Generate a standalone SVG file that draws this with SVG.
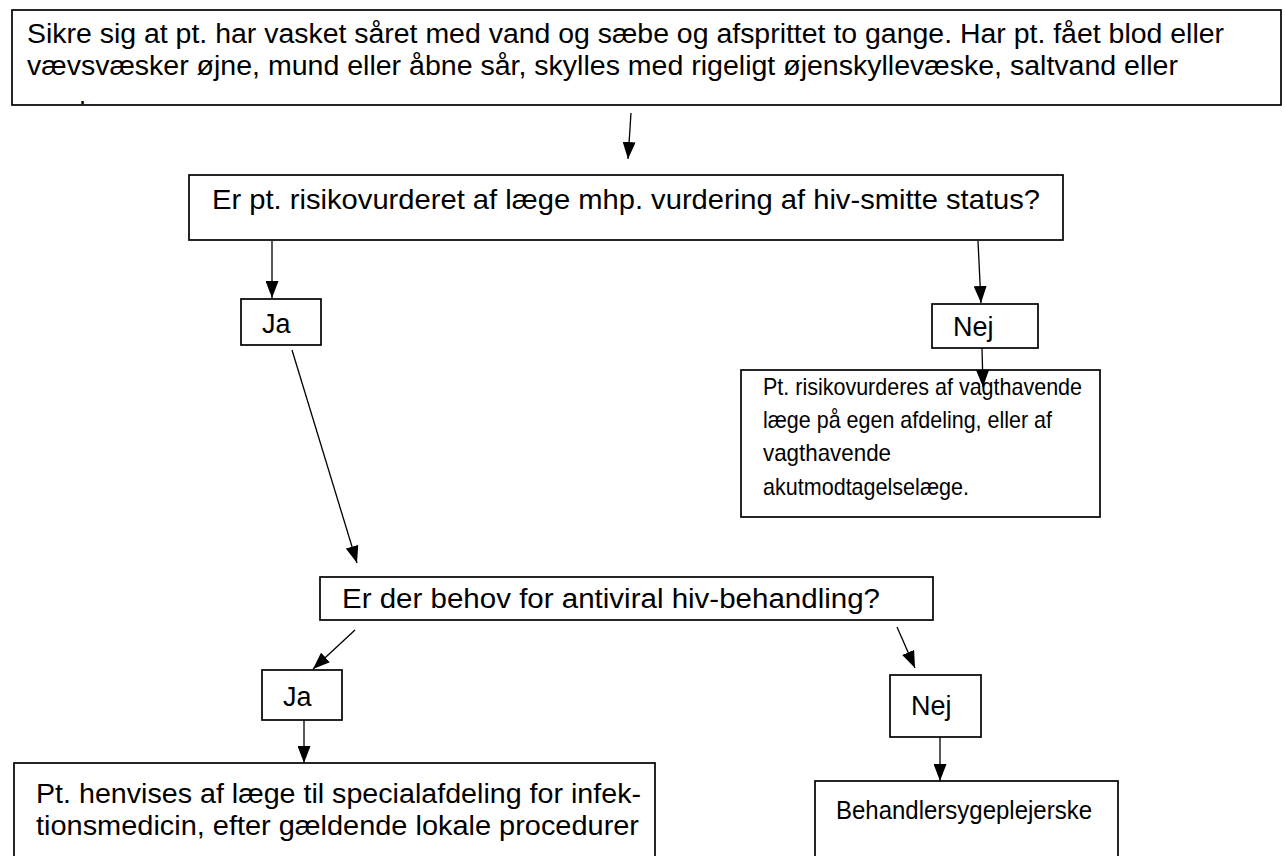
<svg xmlns="http://www.w3.org/2000/svg" width="1285" height="856" viewBox="0 0 1285 856">
<style>
.box{fill:#fff;stroke:#000;stroke-width:1.7}
.t{font-family:"Liberation Sans",Arial,sans-serif;fill:#000}
.c{stroke:#000;stroke-width:1.3;fill:none;marker-end:url(#ah)}
</style>
<defs>
<marker id="ah" markerUnits="userSpaceOnUse" markerWidth="17" markerHeight="13" refX="17" refY="6.5" orient="auto" viewBox="0 0 17 13">
<path d="M0,0 L17,6.5 L0,13 Z" fill="#000"/>
</marker>
<clipPath id="clipTop"><rect x="13" y="11" width="1267" height="93"/></clipPath>
</defs>
<rect width="1285" height="856" fill="#fff"/>
<g id="n1">
<rect class="box" x="12" y="10" width="1269" height="95"/>
<g clip-path="url(#clipTop)">
<text class="t" font-size="27" x="27" y="43" textLength="1197" lengthAdjust="spacingAndGlyphs">Sikre sig at pt. har vasket såret med vand og sæbe og afsprittet to gange. Har pt. fået blod eller</text>
<text class="t" font-size="27" x="27" y="75" textLength="1151" lengthAdjust="spacingAndGlyphs">vævsvæsker øjne, mund eller åbne sår, skylles med rigeligt øjenskyllevæske, saltvand eller</text>
<text class="t" font-size="27" x="27" y="121">vand.</text>
</g>
</g>
<g id="n2">
<rect class="box" x="189" y="175" width="874" height="65"/>
<text class="t" font-size="28" x="212" y="209" textLength="828" lengthAdjust="spacingAndGlyphs">Er pt. risikovurderet af læge mhp. vurdering af hiv-smitte status?</text>
</g>
<g id="n3">
<rect class="box" x="241" y="299" width="80" height="46"/>
<text class="t" font-size="27" x="262" y="333">Ja</text>
</g>
<g id="n4">
<rect class="box" x="932" y="304" width="106" height="44"/>
<text class="t" font-size="27" x="953" y="336">Nej</text>
</g>
<g id="n5">
<rect class="box" x="741" y="370" width="359" height="147"/>
<text class="t" font-size="24" x="763" y="395" textLength="319" lengthAdjust="spacingAndGlyphs">Pt. risikovurderes af vagthavende</text>
<text class="t" font-size="24" x="763" y="428" textLength="289" lengthAdjust="spacingAndGlyphs">læge på egen afdeling, eller af</text>
<text class="t" font-size="24" x="763" y="461" textLength="128" lengthAdjust="spacingAndGlyphs">vagthavende</text>
<text class="t" font-size="24" x="763" y="495" textLength="206" lengthAdjust="spacingAndGlyphs">akutmodtagelselæge.</text>
</g>
<g id="n6">
<rect class="box" x="320" y="577" width="613" height="43"/>
<text class="t" font-size="27" x="342" y="608" textLength="538" lengthAdjust="spacingAndGlyphs">Er der behov for antiviral hiv-behandling?</text>
</g>
<g id="n7">
<rect class="box" x="262" y="670" width="80" height="50"/>
<text class="t" font-size="27" x="283" y="706">Ja</text>
</g>
<g id="n8">
<rect class="box" x="890" y="675" width="91" height="62"/>
<text class="t" font-size="27" x="911" y="715">Nej</text>
</g>
<g id="n9">
<rect class="box" x="14" y="763" width="641" height="100"/>
<text class="t" font-size="27" x="36" y="803" textLength="605" lengthAdjust="spacingAndGlyphs">Pt. henvises af læge til specialafdeling for infek-</text>
<text class="t" font-size="27" x="36" y="835" textLength="603" lengthAdjust="spacingAndGlyphs">tionsmedicin, efter gældende lokale procedurer</text>
</g>
<g id="n10">
<rect class="box" x="815" y="781" width="303" height="82"/>
<text class="t" font-size="26" x="836" y="819" textLength="256" lengthAdjust="spacingAndGlyphs">Behandlersygeplejerske</text>
</g>
<g id="connectors">
<line class="c" x1="631" y1="113" x2="628" y2="159"/>
<line class="c" x1="272" y1="241" x2="272" y2="298"/>
<line class="c" x1="978" y1="241" x2="981" y2="303"/>
<line class="c" x1="982" y1="348" x2="983" y2="387"/>
<line class="c" x1="292" y1="350" x2="357" y2="563"/>
<line class="c" x1="355" y1="630" x2="313" y2="669"/>
<line class="c" x1="897" y1="627" x2="915" y2="668"/>
<line class="c" x1="304" y1="720" x2="304" y2="763"/>
<line class="c" x1="940" y1="737" x2="940" y2="781"/>
</g>
</svg>
